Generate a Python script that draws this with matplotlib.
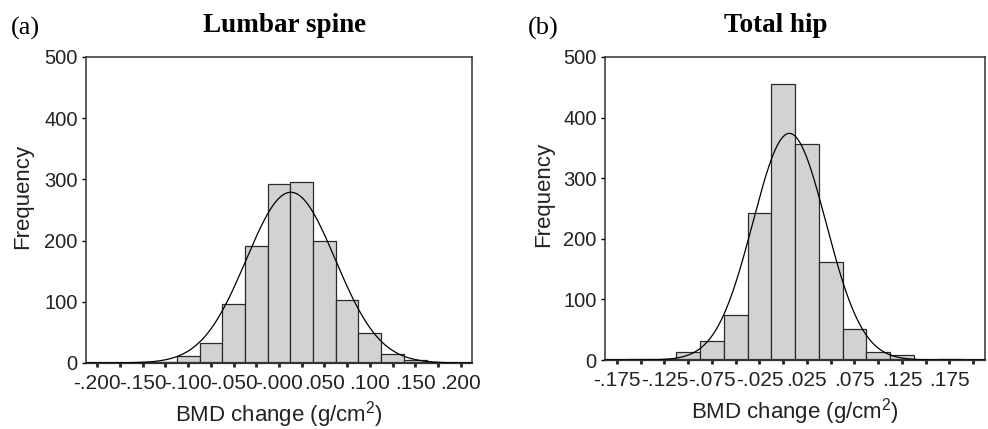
import numpy as np
import matplotlib
matplotlib.use("Agg")
import matplotlib.pyplot as plt

# ======================
# |       DATA         |
# ======================
# bin midpoints (g/cm2) and counts
lumbar_bins = [-.200, -.175, -.150, -.125, -.100, -.075, -.050, -.025, .000,
               .025, .050, .075, .100, .125, .150, .175, .200]
lumbar_counts = [0, 0, 1, 2, 11, 32, 97, 191, 292, 295, 199, 103, 49, 15, 5, 0, 0]
lumbar_ticks = [-.200, -.150, -.100, -.050, .000, .050, .100, .150, .200]
lumbar_ticklabels = ["-.200", "-.150", "-.100", "-.050", "-.000", ".050", ".100", ".150", ".200"]

hip_bins = [-.175, -.150, -.125, -.100, -.075, -.050, -.025, .000, .025,
            .050, .075, .100, .125, .150, .175, .200]
hip_counts = [0, 2, 1, 13, 32, 74, 243, 455, 356, 161, 51, 13, 8, 0, 2, 0]
hip_ticks = [-.175, -.125, -.075, -.025, .025, .075, .125, .175]
hip_ticklabels = ["-.175", "-.125", "-.075", "-.025", ".025", ".075", ".125", ".175"]

# fitted normal curve: mean, sd, peak height
lumbar_fit = (0.013, 0.049, 279)
hip_fit = (0.0066, 0.0385, 374)

bin_width = 0.025
bar_color = "#d1d3d3"
sans = ["Liberation Sans", "DejaVu Sans"]
serif = ["Liberation Serif", "DejaVu Serif"]


# ======================
# |    FUNCTIONS       |
# ======================
def draw_panel(ax, bins, counts, fit, ticks, ticklabels, width_px, height_px, ylab_px):
    ax.bar(bins, counts, width=bin_width, color=bar_color,
           edgecolor="#2a2a2a", linewidth=0.9, zorder=2)

    # normal curve over the whole axis range
    lo = bins[0] - bin_width / 2
    hi = bins[-1] + bin_width / 2
    xs = np.linspace(lo, hi, 400)
    mean, sd, peak = fit
    ax.plot(xs, peak * np.exp(-0.5 * ((xs - mean) / sd) ** 2),
            color="black", linewidth=0.9, zorder=3)

    ax.set_xlim(lo, hi)
    ax.set_ylim(0, 500)
    ax.set_yticks([0, 100, 200, 300, 400, 500])
    ax.set_xticks(bins, minor=True)
    ax.set_xticks(ticks)
    ax.set_xticklabels(ticklabels)

    ax.tick_params(axis="x", which="both", direction="out", length=3, width=2,
                   color="#222222", pad=5)
    ax.tick_params(axis="y", direction="out", length=3, width=1, pad=3)
    for lab in ax.get_xticklabels():
        lab.set_family(sans)
        lab.set_fontsize(15)
        lab.set_color("#222222")
    for lab in ax.get_yticklabels():
        lab.set_family(sans)
        lab.set_fontsize(14.5)
        lab.set_color("#222222")

    for side in ["top", "right", "left", "bottom"]:
        ax.spines[side].set_color("#333333")
        ax.spines[side].set_linewidth(1.1)
    ax.spines["bottom"].set_linewidth(1.6)

    ax.set_ylabel("Frequency", family=sans, fontsize=16, color="#222222")
    ax.yaxis.label.set_va("center")
    ax.yaxis.set_label_coords(-ylab_px / width_px, ylab_y_frac(height_px))
    ax.set_xlabel("BMD change (g/cm$^2$)", family=sans, fontsize=16, color="#222222")
    ax.xaxis.label.set_va("center")
    ax.xaxis.set_label_coords(0.5, -52 / height_px)


def ylab_y_frac(height_px):
    # label centre sits about 14 px above the middle of the plot box
    return 0.5 + 14 / height_px


# ======================
# |   Visualization    |
# ======================
plt.rcParams["mathtext.fontset"] = "custom"
plt.rcParams["mathtext.rm"] = "Liberation Sans"

fig = plt.figure(figsize=(9.88, 4.29), dpi=100)
ax_a = fig.add_axes([86 / 988, 1 - 363 / 429, 386 / 988, 306 / 429])
ax_b = fig.add_axes([605 / 988, 1 - 360 / 429, 380 / 988, 303 / 429])

draw_panel(ax_a, lumbar_bins, lumbar_counts, lumbar_fit, lumbar_ticks, lumbar_ticklabels,
           386, 306, 63)
draw_panel(ax_b, hip_bins, hip_counts, hip_fit, hip_ticks, hip_ticklabels,
           380, 303, 61)

# panel letters and titles
fig.text(11 / 988, 1 - 28 / 429, "(a)", family=serif, fontsize=19, va="center", ha="left")
fig.text(285 / 988, 1 - 26 / 429, "Lumbar spine", family=serif, fontsize=19.5,
         fontweight="bold", va="center", ha="center")
fig.text(528 / 988, 1 - 28 / 429, "(b)", family=serif, fontsize=19, va="center", ha="left")
fig.text(776 / 988, 1 - 26 / 429, "Total hip", family=serif, fontsize=19.5,
         fontweight="bold", va="center", ha="center")

fig.savefig("out.png", dpi=100)
